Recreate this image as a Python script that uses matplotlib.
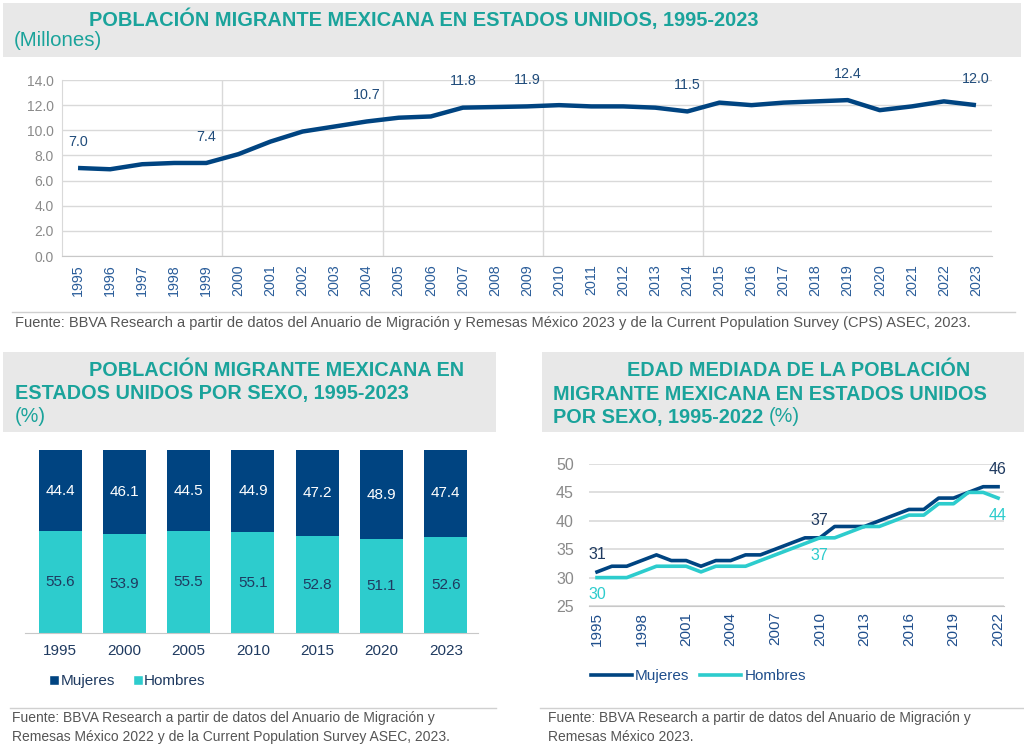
import matplotlib.pyplot as plt
from matplotlib.patches import Rectangle
from matplotlib.lines import Line2D

plt.rcParams["font.family"] = ["Liberation Sans", "DejaVu Sans"]

# Top chart: Mexican migrant population in the US (millions)
years_total = list(range(1995, 2024))
population = [7.0, 6.9, 7.3, 7.4, 7.4, 8.1, 9.1, 9.9, 10.3, 10.7,
              11.0, 11.1, 11.8, 11.85, 11.9, 12.0, 11.9, 11.9, 11.8, 11.5,
              12.2, 12.0, 12.2, 12.3, 12.4, 11.6, 11.9, 12.3, 12.0]
labelled_years = [1995, 1999, 2004, 2007, 2009, 2014, 2019, 2023]

# Bottom-left: share by sex (%)
bar_years = ["1995", "2000", "2005", "2010", "2015", "2020", "2023"]
mujeres_pct = [44.4, 46.1, 44.5, 44.9, 47.2, 48.9, 47.4]
hombres_pct = [55.6, 53.9, 55.5, 55.1, 52.8, 51.1, 52.6]

# Bottom-right: median age by sex
years_age = list(range(1995, 2023))
mujeres_age = [31, 32, 32, 33, 34, 33, 33, 32, 33, 33, 34, 34, 35, 36,
               37, 37, 39, 39, 39, 40, 41, 42, 42, 44, 44, 45, 46, 46]
hombres_age = [30, 30, 30, 31, 32, 32, 32, 31, 32, 32, 32, 33, 34, 35,
               36, 37, 37, 38, 39, 39, 40, 41, 41, 43, 43, 45, 45, 44]

NAVY = "#004481"
AQUA = "#2dcccd"
TEAL_TITLE = "#1aa39b"
GREY_TXT = "#8a8a8a"
SRC_TXT = "#555555"
BAND = "#e8e8e8"
GRID = "#d9d9d9"

W, H = 1024, 752
fig = plt.figure(figsize=(W / 100, H / 100), dpi=100)


def box(x0, y0, x1, y1):
    """Pixel box (top-left origin) -> figure fraction rect."""
    return [x0 / W, 1 - y1 / H, (x1 - x0) / W, (y1 - y0) / H]


def ftext(x, y, s, **kw):
    return fig.text(x / W, 1 - y / H, s, **kw)


def band(x0, y0, x1, y1):
    fig.add_artist(Rectangle((x0 / W, 1 - y1 / H), (x1 - x0) / W, (y1 - y0) / H,
                             transform=fig.transFigure, facecolor=BAND,
                             edgecolor="none", zorder=0))


def hline(x0, x1, y):
    fig.add_artist(Line2D([x0 / W, x1 / W], [1 - y / H, 1 - y / H],
                          transform=fig.transFigure, color="#d0d0d0", lw=1))


# ---------------- headers ----------------
band(3, 3, 1021, 57)
band(3, 352, 496, 432)
band(542, 352, 1024, 432)

ftext(89, 19, "POBLACIÓN MIGRANTE MEXICANA EN ESTADOS UNIDOS, 1995-2023",
      color=TEAL_TITLE, fontsize=14.45, fontweight="bold", va="center")
ftext(14, 41, "(Millones)", color=TEAL_TITLE, fontsize=14.7, va="center")

TS = 14.3
ftext(89, 371, "POBLACIÓN MIGRANTE MEXICANA EN", color=TEAL_TITLE,
      fontsize=TS, fontweight="bold", va="center")
ftext(15, 394, "ESTADOS UNIDOS POR SEXO, 1995-2023", color=TEAL_TITLE,
      fontsize=TS, fontweight="bold", va="center")
ftext(15, 416, "(%)", color=TEAL_TITLE, fontsize=TS, va="center")

ftext(627, 371, "EDAD MEDIADA DE LA POBLACIÓN", color=TEAL_TITLE,
      fontsize=TS, fontweight="bold", va="center")
ftext(553, 394, "MIGRANTE MEXICANA EN ESTADOS UNIDOS", color=TEAL_TITLE,
      fontsize=TS, fontweight="bold", va="center")
t3 = ftext(553, 417, "POR SEXO, 1995-2022 ", color=TEAL_TITLE,
           fontsize=TS, fontweight="bold", va="center")
fig.canvas.draw()
bb = t3.get_window_extent()
fig.text(bb.x1 / W, 1 - 417 / H, "(%)", color=TEAL_TITLE, fontsize=TS,
         va="center")

# ---------------- top line chart ----------------
ax1 = fig.add_axes(box(62, 80, 992, 256))
xs = list(range(len(years_total)))
ax1.plot(xs, population, color=NAVY, lw=3.2, solid_capstyle="butt", zorder=3)
ax1.set_xlim(-0.5, len(years_total) - 0.5)
ax1.set_ylim(0, 14)
ax1.set_yticks([0, 2, 4, 6, 8, 10, 12, 14])
ax1.set_yticklabels([f"{v:.1f}" for v in range(0, 15, 2)])
ax1.set_xticks(xs)
ax1.set_xticklabels([str(y) for y in years_total], rotation=90)
ax1.tick_params(axis="y", length=0, labelsize=10, labelcolor=GREY_TXT, pad=6)
ax1.tick_params(axis="x", length=0, labelsize=10.3, labelcolor="#2a5d9a", pad=6)
ax1.yaxis.grid(True, color=GRID, lw=1)
for xv in [4.5, 9.5, 14.5, 19.5]:
    ax1.axvline(xv, color=GRID, lw=1, zorder=1)
for s in ["top", "right"]:
    ax1.spines[s].set_visible(False)
ax1.spines["left"].set_color(GRID)
ax1.spines["bottom"].set_color("#c8c8c8")
for yr in labelled_years:
    i = years_total.index(yr)
    v = population[i]
    ax1.annotate(f"{v:.1f}", (i, v), xytext=(0, 14), textcoords="offset points",
                 ha="center", va="bottom", fontsize=10.3, color="#1f4b7a")

hline(12, 1015, 312)
ftext(15, 323, "Fuente: BBVA Research a partir de datos del Anuario de Migración y "
      "Remesas México 2023 y de la Current Population Survey (CPS) ASEC, 2023.",
      color=SRC_TXT, fontsize=10.5, va="center")

# ---------------- bottom-left stacked bars ----------------
ax2 = fig.add_axes(box(25, 450, 478, 633))
bx = list(range(len(bar_years)))
ax2.bar(bx, hombres_pct, width=0.67, color=AQUA, label="Hombres")
ax2.bar(bx, mujeres_pct, width=0.67, bottom=hombres_pct, color=NAVY,
        label="Mujeres")
for i in bx:
    ax2.text(i, hombres_pct[i] / 2, f"{hombres_pct[i]:.1f}", ha="center",
             va="center", fontsize=11, color="#1f3a60")
    ax2.text(i, hombres_pct[i] + mujeres_pct[i] / 2, f"{mujeres_pct[i]:.1f}",
             ha="center", va="center", fontsize=11, color="white")
ax2.set_xlim(-0.545, len(bar_years) - 0.5)
ax2.set_ylim(0, 100)
ax2.set_xticks(bx)
ax2.set_xticklabels(bar_years)
ax2.set_yticks([])
ax2.tick_params(axis="x", length=0, labelsize=11, labelcolor="#1f3a60", pad=8)
for s in ["top", "right", "left"]:
    ax2.spines[s].set_visible(False)
ax2.spines["bottom"].set_color("#c8c8c8")
h_m = Line2D([0], [0], marker="s", color="w", markerfacecolor=NAVY,
             markersize=6.5, lw=0)
h_h = Line2D([0], [0], marker="s", color="w", markerfacecolor=AQUA,
             markersize=6.5, lw=0)
fig.legend([h_m, h_h], ["Mujeres", "Hombres"], loc="center left",
           bbox_to_anchor=(36 / W, 1 - 681 / H), ncol=2, frameon=False,
           fontsize=11, handlelength=0.6, handletextpad=0.1,
           columnspacing=1.2, labelcolor="#1f3a60")

hline(10, 496, 708)
ftext(12, 718, "Fuente: BBVA Research a partir de datos del Anuario de Migración y",
      color=SRC_TXT, fontsize=10, va="center")
ftext(12, 737, "Remesas México 2022 y de la Current Population Survey ASEC, 2023.",
      color=SRC_TXT, fontsize=10, va="center")

# ---------------- bottom-right median age ----------------
ax3 = fig.add_axes(box(589, 464, 1004, 606))
ax3.plot(years_age, mujeres_age, color=NAVY, lw=2.6, label="Mujeres", zorder=3)
ax3.plot(years_age, hombres_age, color=AQUA, lw=2.6, label="Hombres", zorder=3)
ax3.set_xlim(1994.46, 2022.4)
ax3.set_ylim(25, 50)
ax3.set_yticks([25, 30, 35, 40, 45, 50])
ax3.set_xticks(list(range(1995, 2023, 3)))
ax3.set_xticklabels([str(y) for y in range(1995, 2023, 3)], rotation=90)
ax3.tick_params(axis="y", length=0, labelsize=11.5, labelcolor=GREY_TXT, pad=11)
ax3.tick_params(axis="x", length=0, labelsize=11, labelcolor="#1f4e8c", pad=4)
ax3.yaxis.grid(True, color=GRID, lw=1.2)
for s in ["top", "right", "left"]:
    ax3.spines[s].set_visible(False)
ax3.spines["bottom"].set_color("#c8c8c8")
for yr in [1995, 2010, 2022]:
    i = years_age.index(yr)
    ax3.annotate(str(mujeres_age[i]), (yr, mujeres_age[i]), xytext=(0, 7),
                 textcoords="offset points", ha="center", va="bottom",
                 fontsize=11.5, color="#1f3a60")
    ax3.annotate(str(hombres_age[i]), (yr, hombres_age[i]), xytext=(0, -7),
                 textcoords="offset points", ha="center", va="top",
                 fontsize=11.5, color=AQUA)
fig.legend(ax3.get_lines(), ["Mujeres", "Hombres"], loc="center left",
           bbox_to_anchor=(577 / W, 1 - 676 / H), ncol=2, frameon=False,
           fontsize=11, handlelength=2.7, handletextpad=0.2,
           columnspacing=0.7, labelcolor="#1f4e8c")

hline(540, 1024, 708)
ftext(548, 718, "Fuente: BBVA Research a partir de datos del Anuario de Migración y",
      color=SRC_TXT, fontsize=10, va="center")
ftext(548, 737, "Remesas México 2023.", color=SRC_TXT, fontsize=10, va="center")

fig.savefig("out.png", dpi=100)
